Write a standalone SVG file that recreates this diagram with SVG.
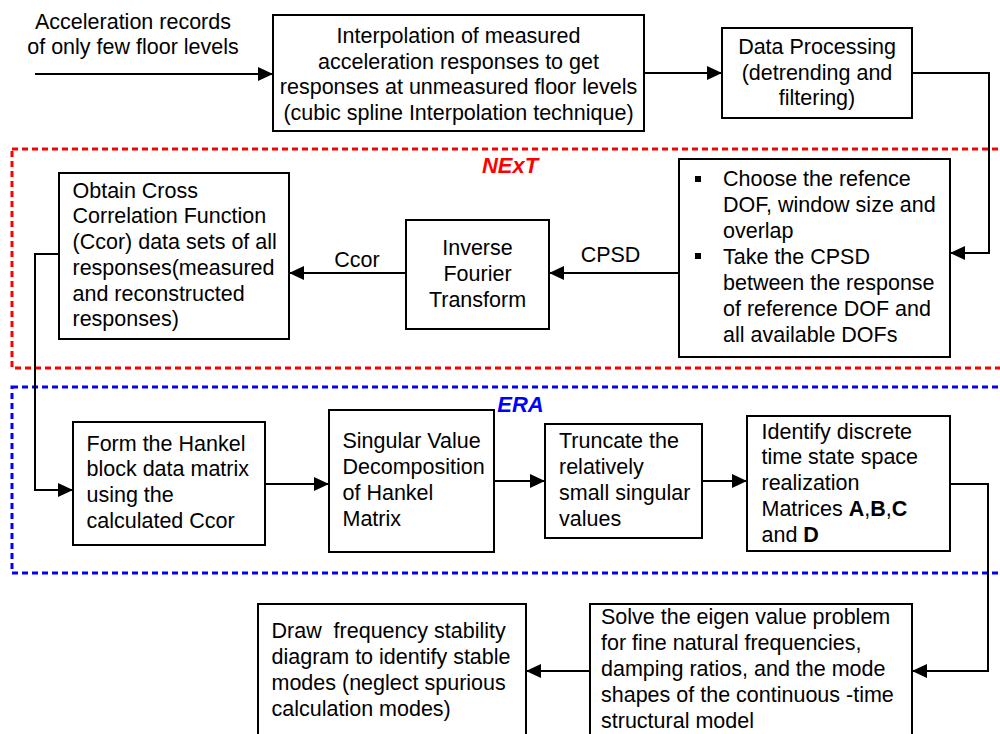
<svg xmlns="http://www.w3.org/2000/svg" width="1000" height="734" viewBox="0 0 1000 734">
<defs>
<marker id="arr" markerUnits="userSpaceOnUse" markerWidth="16" markerHeight="14" refX="15" refY="7" orient="auto">
<path d="M0,0 L15,7 L0,14 z" fill="#000"/>
</marker>
<style>
text{font-family:"Liberation Sans",Arial,sans-serif;font-size:21.5px;fill:#000}
.c{text-anchor:middle}
.box{fill:#fff;stroke:#000;stroke-width:2}
.con{fill:none;stroke:#000;stroke-width:2}
.red{fill:none;stroke:#ff0000;stroke-width:3;stroke-dasharray:6 4}
.blue{fill:none;stroke:#0000ff;stroke-width:3;stroke-dasharray:6 4}
.lbl{font-weight:bold;font-style:italic;font-size:22px}
</style>
</defs>
<rect width="1000" height="734" fill="#fff"/>
<g id="groups">
<rect class="red" x="12" y="149" width="1010" height="219"/>
<text class="lbl c" x="510" y="173" style="fill:#ff0000">NExT</text>
<rect class="blue" x="12" y="387" width="1010" height="186"/>
<text class="lbl c" x="520.5" y="412" style="fill:#0000ff">ERA</text>
</g>
<g id="connectors">
<path class="con" d="M35,74 H273" marker-end="url(#arr)"/>
<path class="con" d="M644,73 H722" marker-end="url(#arr)"/>
<path class="con" d="M912,73 H989 V253 H950" marker-end="url(#arr)"/>
<path class="con" d="M679,273 H549" marker-end="url(#arr)"/>
<text class="c" x="610.5" y="262">CPSD</text>
<path class="con" d="M406,273 H289" marker-end="url(#arr)"/>
<text class="c" x="357" y="267">Ccor</text>
<path class="con" d="M59,254 H35 V490 H73" marker-end="url(#arr)"/>
<path class="con" d="M265,484 H329" marker-end="url(#arr)"/>
<path class="con" d="M494,481 H545" marker-end="url(#arr)"/>
<path class="con" d="M702,481 H747" marker-end="url(#arr)"/>
<path class="con" d="M950,484 H988 V671 H912" marker-end="url(#arr)"/>
<path class="con" d="M590,671 H526" marker-end="url(#arr)"/>
</g>
<g id="input">
<text class="c" x="133" y="29">Acceleration records</text>
<text class="c" x="133" y="54">of only few floor levels</text>
</g>
<g id="interpolation">
<rect class="box" x="273" y="15" width="371" height="116"/>
<text class="c" x="458.5" y="43">Interpolation of measured</text>
<text class="c" x="458.5" y="68.5">acceleration responses to get</text>
<text class="c" x="458.5" y="94">responses at unmeasured floor levels</text>
<text class="c" x="458.5" y="119.5">(cubic spline Interpolation technique)</text>
</g>
<g id="dataprocessing">
<rect class="box" x="722" y="28" width="190" height="90"/>
<text class="c" x="817" y="54">Data Processing</text>
<text class="c" x="817" y="79.5">(detrending and</text>
<text class="c" x="817" y="105">filtering)</text>
</g>
<g id="choose">
<rect class="box" x="679" y="159" width="271" height="198"/>
<rect x="695" y="176" width="6" height="6" fill="#000"/>
<rect x="695" y="253" width="6" height="6" fill="#000"/>
<text x="723" y="186">Choose the refence</text>
<text x="723" y="212">DOF, window size and</text>
<text x="723" y="238">overlap</text>
<text x="723" y="264">Take the CPSD</text>
<text x="723" y="290">between the response</text>
<text x="723" y="316">of reference DOF and</text>
<text x="723" y="342">all available DOFs</text>
</g>
<g id="ift">
<rect class="box" x="406" y="220" width="143" height="109"/>
<text class="c" x="477.5" y="255">Inverse</text>
<text class="c" x="477.5" y="281">Fourier</text>
<text class="c" x="477.5" y="307">Transform</text>
</g>
<g id="obtain">
<rect class="box" x="59" y="173" width="230" height="166"/>
<text x="72.5" y="197.5">Obtain Cross</text>
<text x="72.5" y="223.3">Correlation Function</text>
<text x="72.5" y="249">(Ccor) data sets of all</text>
<text x="72.5" y="274.8">responses(measured</text>
<text x="72.5" y="300.6">and reconstructed</text>
<text x="72.5" y="326.4">responses)</text>
</g>
<g id="hankel">
<rect class="box" x="73" y="422" width="192" height="123"/>
<text x="86.5" y="450.5">Form the Hankel</text>
<text x="86.5" y="476.3">block data matrix</text>
<text x="86.5" y="502">using the</text>
<text x="86.5" y="527.8">calculated Ccor</text>
</g>
<g id="svd">
<rect class="box" x="329" y="410" width="165" height="142"/>
<text x="342.5" y="448">Singular Value</text>
<text x="342.5" y="474">Decomposition</text>
<text x="342.5" y="500">of Hankel</text>
<text x="342.5" y="526">Matrix</text>
</g>
<g id="truncate">
<rect class="box" x="545" y="424" width="157" height="114"/>
<text x="559" y="448">Truncate the</text>
<text x="559" y="474">relatively</text>
<text x="559" y="500">small singular</text>
<text x="559" y="526">values</text>
</g>
<g id="identify">
<rect class="box" x="747" y="416" width="203" height="135"/>
<text x="761.5" y="438.5">Identify discrete</text>
<text x="761.5" y="464.3">time state space</text>
<text x="761.5" y="490">realization</text>
<text x="761.5" y="515.8">Matrices <tspan font-weight="bold">A</tspan>,<tspan font-weight="bold">B</tspan>,<tspan font-weight="bold">C</tspan></text>
<text x="761.5" y="541.6">and <tspan font-weight="bold">D</tspan></text>
</g>
<g id="solve">
<rect class="box" x="590" y="604" width="322" height="140"/>
<text x="601" y="624.3">Solve the eigen value problem</text>
<text x="601" y="650">for fine natural frequencies,</text>
<text x="601" y="676">damping ratios, and the mode</text>
<text x="601" y="701.7">shapes of the continuous -time</text>
<text x="601" y="727.7">structural model</text>
</g>
<g id="draw">
<rect class="box" x="258" y="604" width="268" height="140"/>
<text x="271.5" y="638.3" xml:space="preserve">Draw  frequency stability</text>
<text x="271.5" y="664">diagram to identify stable</text>
<text x="271.5" y="690">modes (neglect spurious</text>
<text x="271.5" y="716">calculation modes)</text>
</g>
</svg>
